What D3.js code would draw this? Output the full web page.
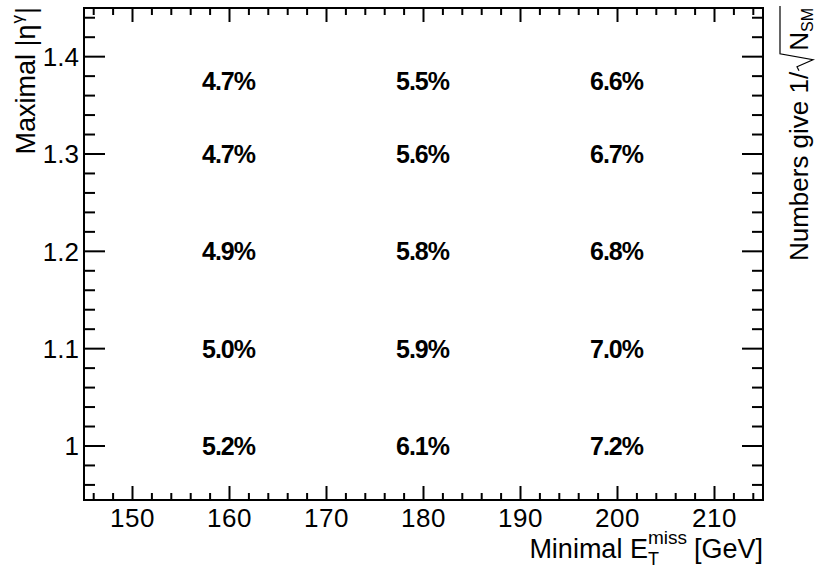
<!DOCTYPE html>
<meta charset="utf-8">
<script src="https://d3js.org/d3.v7.min.js"></script>
<style>
  body { margin: 0; background: #fff; }
  text { font-family: "Liberation Sans", Arial, Helvetica, sans-serif; fill: #000; }
</style>
<body>
<div id="vis"></div>
<script>
// cut values (bins of the 2D table)
var metCuts = [160, 180, 200];
var etaRows = [1.0, 1.1, 1.2, 1.3, 1.375];
// 1/sqrt(N_SM) in percent, one array per MET cut, ordered like etaRows
var cut160 = [5.2, 5.0, 4.9, 4.7, 4.7];
var cut180 = [6.1, 5.9, 5.8, 5.6, 5.5];
var cut200 = [7.2, 7.0, 6.8, 6.7, 6.6];
// axis ticks
var xTicks = [150, 160, 170, 180, 190, 200, 210];
var yTicks = [1.0, 1.1, 1.2, 1.3, 1.4];
var yTickLabels = ["1", "1.1", "1.2", "1.3", "1.4"];

var W = 819, H = 569;
var frame = {left: 84, right: 763, top: 8, bottom: 500};

var svg = d3.select("#vis").append("svg")
    .attr("width", W).attr("height", H);

var x = d3.scaleLinear().domain([145, 215]).range([frame.left, frame.right]);
var y = d3.scaleLinear().domain([0.9445, 1.45]).range([frame.bottom, frame.top]);

// flatten the table for drawing
var cells = [];
[cut160, cut180, cut200].forEach(function(col, i) {
  col.forEach(function(v, j) {
    cells.push({met: metCuts[i], eta: etaRows[j], val: v});
  });
});

// frame
svg.append("rect")
  .attr("x", frame.left).attr("y", frame.top)
  .attr("width", frame.right - frame.left).attr("height", frame.bottom - frame.top)
  .attr("fill", "none").attr("stroke", "#000").attr("stroke-width", 2);

// ticks on all four sides
var xMinor = d3.range(146, 215, 2).filter(function(d) { return d % 10 != 0; });
var yMinor = d3.range(96, 145, 2).map(function(d) { return d / 100; })
  .filter(function(d) { return Math.round(d * 100) % 10 != 0; });

function xTickLines(vals, len) {
  [frame.bottom, frame.top].forEach(function(base, k) {
    var dir = k == 0 ? -1 : 1;
    svg.append("g").selectAll("line").data(vals).enter().append("line")
      .attr("x1", function(d) { return x(d); }).attr("x2", function(d) { return x(d); })
      .attr("y1", base).attr("y2", base + dir * len)
      .attr("stroke", "#000").attr("stroke-width", 2);
  });
}
function yTickLines(vals, len) {
  [frame.left, frame.right].forEach(function(base, k) {
    var dir = k == 0 ? 1 : -1;
    svg.append("g").selectAll("line").data(vals).enter().append("line")
      .attr("y1", function(d) { return y(d); }).attr("y2", function(d) { return y(d); })
      .attr("x1", base).attr("x2", base + dir * len)
      .attr("stroke", "#000").attr("stroke-width", 2);
  });
}
xTickLines(xTicks, 14);
xTickLines(xMinor, 7);
yTickLines(yTicks, 21);
yTickLines(yMinor, 11);

// tick labels
svg.append("g").selectAll("text").data(xTicks).enter().append("text")
  .attr("x", function(d) { return x(d); })
  .attr("y", 527)
  .attr("text-anchor", "middle")
  .style("font-size", "26px")
  .style("letter-spacing", "0.5px")
  .text(function(d) { return d; });

svg.append("g").selectAll("text").data(yTicks).enter().append("text")
  .attr("x", 79)
  .attr("y", function(d) { return y(d) + 9.5; })
  .attr("text-anchor", "end")
  .style("font-size", "26px")
  .text(function(d, i) { return yTickLabels[i]; });

// cell numbers
svg.append("g").selectAll("text").data(cells).enter().append("text")
  .attr("x", function(d) { return x(d.met) - 1; })
  .attr("y", function(d) { return y(d.eta) + 9; })
  .attr("text-anchor", "middle")
  .style("font-size", "25px")
  .style("font-weight", "bold")
  .style("letter-spacing", "-1px")
  .text(function(d) { return d.val.toFixed(1) + "%"; });

// x axis title: Minimal E_T^miss [GeV], right aligned to frame
var xt = svg.append("g");
var t1 = xt.append("text").attr("x", 0).attr("y", 558).style("font-size", "27px").text("Minimal E");
var w1 = t1.node().getComputedTextLength();
var tSub = xt.append("text").attr("x", w1).attr("y", 565).style("font-size", "18px").text("T");
var tSup = xt.append("text").attr("x", w1).attr("y", 544).style("font-size", "19px").text("miss");
var w2 = w1 + Math.max(tSub.node().getComputedTextLength(), tSup.node().getComputedTextLength());
var t3 = xt.append("text").attr("x", w2 + 7).attr("y", 558).style("font-size", "27px").text("[GeV]");
var wTot = w2 + 7 + t3.node().getComputedTextLength();
xt.attr("transform", "translate(" + (frame.right - wTot) + ",0)");

// y axis title: Maximal |eta^gamma|, rotated, ending at the frame top
var yt = svg.append("g");
var ya = yt.append("text").attr("x", 0).attr("y", 0).style("font-size", "27px").text("Maximal |η");
var ywa = ya.node().getComputedTextLength();
var yb = yt.append("text").attr("x", ywa + 1).attr("y", -12).style("font-size", "17px").text("γ");
var ywb = ywa + 1 + yb.node().getComputedTextLength();
var yc = yt.append("text").attr("x", ywb + 1).attr("y", 0).style("font-size", "27px").text("|");
var yTot = ywb + 1 + yc.node().getComputedTextLength();
yt.attr("transform", "translate(35," + (frame.top - 1 + yTot) + ") rotate(-90)");

// right title: Numbers give 1/sqrt(N_SM), rotated
var rt = svg.append("g");
var ra = rt.append("text").attr("x", 0).attr("y", 0).style("font-size", "26px").text("Numbers give 1/");
var rwa = ra.node().getComputedTextLength();
var rootStart = rwa + 1;
var rN = rt.append("text").attr("x", rootStart + 20).attr("y", 0).style("font-size", "26px").text("N");
var rwN = rootStart + 20 + rN.node().getComputedTextLength();
var rS = rt.append("text").attr("x", rwN).attr("y", 5).style("font-size", "16px").text("SM");
var rEnd = rwN + rS.node().getComputedTextLength() + 2;
rt.append("path")
  .attr("d", "M" + rootStart + ",-9 L" + (rootStart + 4) + ",-11 L" + (rootStart + 11) + ",5 L" +
        (rootStart + 17) + ",-28 L" + rEnd + ",-28")
  .attr("fill", "none").attr("stroke", "#000").attr("stroke-width", 1.2);
rt.attr("transform", "translate(808," + (6 + rEnd) + ") rotate(-90)");
</script>
</body>
